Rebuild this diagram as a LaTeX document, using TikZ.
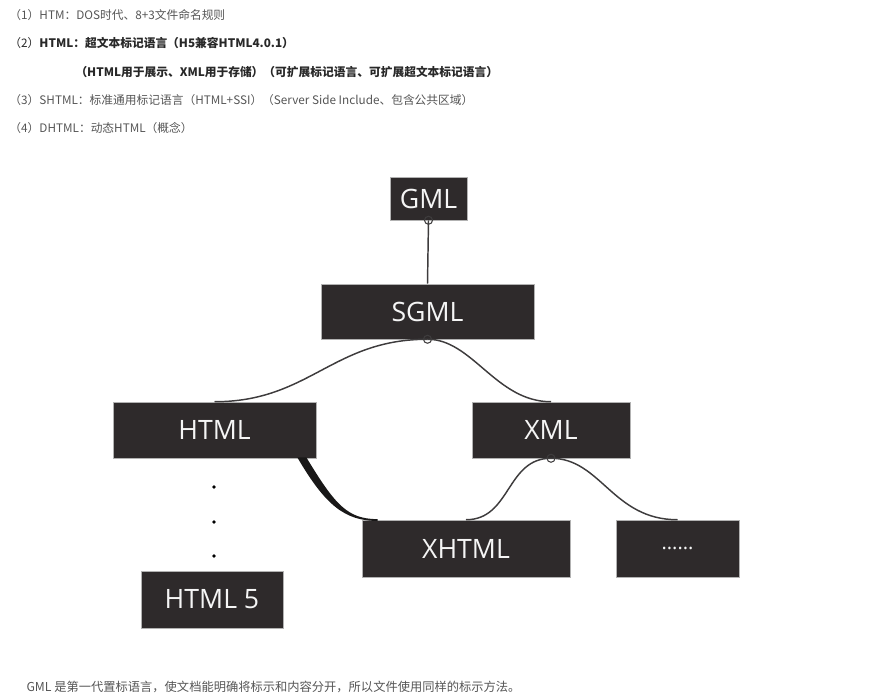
\documentclass[tikz,border=0pt]{standalone}
\usepackage{fontspec}
\setmainfont{Open Sans}
\newfontfamily\cjk{Noto Sans CJK SC}
\usetikzlibrary{calc}

\definecolor{boxgray}{RGB}{46,42,43}
\definecolor{linkgray}{RGB}{62,60,61}
\definecolor{notegray}{RGB}{85,85,85}
\definecolor{notedark}{RGB}{40,40,40}

\tikzset{every picture/.style={line width=0.75pt}}
\tikzset{
  langbox/.style={fill=boxgray, draw=gray!60, line width=0.4pt, text=white!92!gray,
    inner sep=0pt, font=\fontsize{20}{24}\selectfont},
  note/.style={anchor=west, inner sep=0pt, font=\cjk\fontsize{8.8}{10}\selectfont, text=notegray},
  link/.style={draw=linkgray, line width=1.1pt},
  joint/.style={draw=linkgray, line width=0.8pt}
}

\begin{document}
\begin{tikzpicture}[x=0.75pt,y=0.75pt,yscale=-1,xscale=1]
\useasboundingbox (0,0) rectangle (881,698);

% Text Node
\node [note] (n1) at (9,15) {（1）HTM：DOS时代、8+3文件命名规则};
% Text Node
\node [note, text=notedark] (n2) at (9,43) {（2）\textbf{HTML：超文本标记语言（H5兼容HTML4.0.1）}};
% Text Node
\node [note, text=notedark] (n2b) at (75,72) {\textbf{（HTML用于展示、XML用于存储）（可扩展标记语言、可扩展超文本标记语言）}};
% Text Node
\node [note] (n3) at (9,100) {（3）SHTML：标准通用标记语言（HTML+SSI）（Server Side Include、包含公共区域）};
% Text Node
\node [note] (n4) at (9,128) {（4）DHTML：动态HTML（概念）};

%Shape: Rectangle [id:gml] 
\node [langbox, minimum width=57.75pt, minimum height=32.25pt] (gml) at (428.5,198.5) {GML};
%Shape: Rectangle [id:sgml] 
\node [langbox, minimum width=159.75pt, minimum height=41.25pt] (sgml) at (427.5,311.5) {SGML};
%Shape: Rectangle [id:html] 
\node [langbox, minimum width=152.25pt, minimum height=42pt] (html) at (214.5,430) {HTML};
%Shape: Rectangle [id:xml] 
\node [langbox, minimum width=118.5pt, minimum height=42pt] (xml) at (551,430) {XML};
%Shape: Rectangle [id:xhtml] 
\node [langbox, minimum width=156pt, minimum height=42.75pt] (xhtml) at (466,548.5) {XHTML};
%Shape: Rectangle [id:more] 
\node [langbox, minimum width=92.25pt, minimum height=42.75pt, font=\fontsize{15}{18}\selectfont] (more) at (677.5,548.5) {......};
%Shape: Rectangle [id:html5] 
\node [langbox, minimum width=106.5pt, minimum height=42.75pt] (html5) at (212,599.5) {HTML 5};

%Straight Lines 
\draw [link] (gml.south) -- (sgml.north) ;
%Curve Lines 
\draw [link] (sgml.south) .. controls +(-95,0) and +(95,0) .. (html.north) ;
\draw [link] (sgml.south) .. controls +(45,0) and +(-55,0) .. (xml.north) ;
\draw [link] (xml.south) .. controls +(-45,0) and +(45,0) .. (xhtml.north) ;
\draw [link] (xml.south) .. controls +(50,0) and +(-65,0) .. (more.north) ;
%Shape: Free Drawing 
\fill [linkgray!40!black] ($(html.south east)+(-19,-1)$) .. controls +(28,48) and +(-33,0) .. ($(xhtml.north west)+(16,1.2)$) -- ++(0,-1.8) .. controls +(-30,0) and +(29,48) .. ($(html.south east)+(-10,-1)$) -- cycle ;

%Shape: Circle 
\draw [joint] (gml.south) circle (4) ;
\draw [joint] (sgml.south) circle (4) ;
\draw [joint] (xml.south) circle (4) ;

%Shape: Dots 
\foreach \y in {487,522,556} {
  \fill (214,\y) circle (1.9) ;
}

% Text Node
\node [note, font=\cjk\fontsize{9.2}{11}\selectfont] (cap) at (26,687) {GML 是第一代置标语言，使文档能明确将标示和内容分开，所以文件使用同样的标示方法。};

\end{tikzpicture}
\end{document}
